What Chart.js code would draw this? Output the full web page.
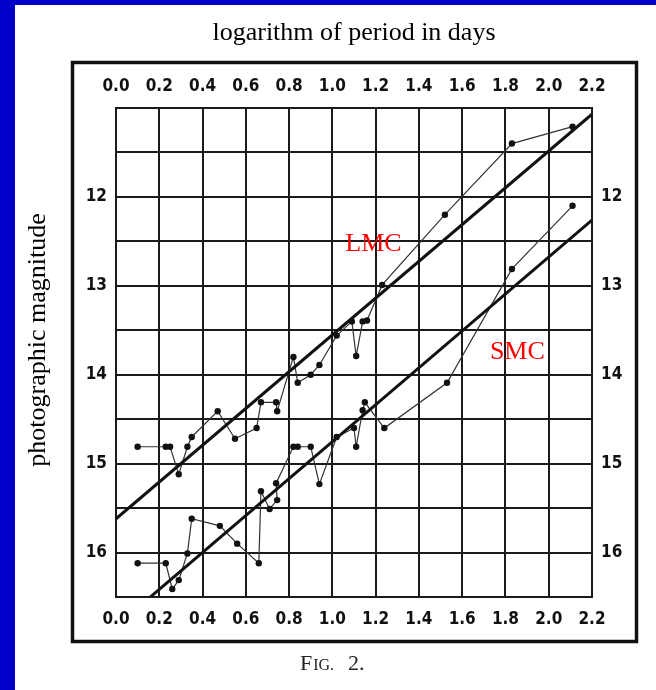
<!DOCTYPE html>
<html><head><meta charset="utf-8">
<script src="https://cdn.jsdelivr.net/npm/chart.js@4.4.1/dist/chart.umd.min.js"></script>
<style>
html,body{margin:0;padding:0;}
body{width:656px;height:690px;background:#0000c8;position:relative;overflow:hidden;}
#paper{position:absolute;left:15px;top:5px;right:0;bottom:0;background:#fff;}
#wrap{position:absolute;left:0;top:0;width:656px;height:690px;}
</style></head><body>
<div id="paper"></div>
<div id="wrap"><canvas id="c" width="656" height="690"></canvas></div>
<script>
// ---- data ----
const xTicks = [0.0, 0.2, 0.4, 0.6, 0.8, 1.0, 1.2, 1.4, 1.6, 1.8, 2.0, 2.2];
const xTickLabels = ['0.0', '0.2', '0.4', '0.6', '0.8', '1.0', '1.2', '1.4', '1.6', '1.8', '2.0', '2.2'];
const yTicks = [11.0, 11.5, 12.0, 12.5, 13.0, 13.5, 14.0, 14.5, 15.0, 15.5, 16.0, 16.5];
const yTickLabels = ['', '', '12', '', '13', '', '14', '', '15', '', '16', ''];

const lmcLogP = [0.10, 0.23, 0.25, 0.29, 0.33, 0.35, 0.47, 0.55, 0.65, 0.67, 0.74, 0.745, 0.82, 0.84, 0.90, 0.94, 1.02, 1.09, 1.11, 1.14, 1.16, 1.23, 1.52, 1.83, 2.11];
const lmcMag  = [14.81, 14.81, 14.81, 15.12, 14.81, 14.70, 14.41, 14.72, 14.60, 14.31, 14.31, 14.41, 13.80, 14.09, 14.00, 13.89, 13.56, 13.40, 13.79, 13.40, 13.39, 12.99, 12.20, 11.40, 11.21];

const smcLogP = [0.10, 0.23, 0.26, 0.29, 0.33, 0.35, 0.48, 0.56, 0.66, 0.67, 0.71, 0.745, 0.74, 0.82, 0.84, 0.90, 0.94, 1.02, 1.10, 1.11, 1.14, 1.15, 1.24, 1.53, 1.83, 2.11];
const smcMag  = [16.12, 16.12, 16.41, 16.31, 16.01, 15.62, 15.70, 15.90, 16.12, 15.31, 15.51, 15.41, 15.22, 14.81, 14.81, 14.81, 15.23, 14.70, 14.60, 14.81, 14.40, 14.31, 14.60, 14.09, 12.81, 12.10];

const lmcFitLogP = [0.0, 2.2];
const lmcFitMag  = [15.62, 11.07];
const smcFitLogP = [0.0, 2.2];
const smcFitMag  = [16.83, 12.26];

const labelLMC = {text: 'LMC', x: 1.06, y: 12.53};
const labelSMC = {text: 'SMC', x: 1.728, y: 13.75};

// ---- chart ----
const toPts = (xs, ys) => xs.map((x, i) => ({x: x, y: ys[i]}));
const SERIF = '"Liberation Serif", "Times New Roman", serif';
const TICKFONT = {family: '"Liberation Sans Narrow", "DejaVu Sans Condensed", sans-serif', size: 17, weight: 'bold'};
const INK = '#1a1a1a';

const decor = {
  id: 'decor',
  afterDraw(chart) {
    const {ctx, chartArea: ca, scales} = chart;
    ctx.save();
    // outer frame
    ctx.strokeStyle = '#111';
    ctx.lineWidth = 3.5;
    const fl = ca.left - 43.5, ft = ca.top - 45.5, fr = ca.right + 44.5, fb = ca.bottom + 44.5;
    ctx.strokeRect(fl, ft, fr - fl, fb - ft);
    // y axis title
    ctx.fillStyle = '#000';
    ctx.font = '26px ' + SERIF;
    ctx.textAlign = 'center';
    ctx.textBaseline = 'middle';
    ctx.save();
    ctx.translate(38, 340);
    ctx.rotate(-Math.PI / 2);
    ctx.fillText('photographic magnitude', 0, 0);
    ctx.restore();
    // series labels
    ctx.fillStyle = '#ff0000';
    ctx.font = '26px ' + SERIF;
    ctx.textAlign = 'left';
    [labelLMC, labelSMC].forEach(l => {
      ctx.fillText(l.text, scales.x.getPixelForValue(l.x), scales.y.getPixelForValue(l.y));
    });
    // caption "FIG. 2."
    ctx.fillStyle = '#222';
    ctx.textBaseline = 'alphabetic';
    ctx.textAlign = 'left';
    let cx = 300; const cy = 670;
    ctx.font = '22px ' + SERIF; ctx.fillText('F', cx, cy); cx += ctx.measureText('F').width + 1;
    ctx.font = '16px ' + SERIF; ctx.fillText('IG.', cx, cy); cx += ctx.measureText('IG.').width + 14;
    ctx.font = '22px ' + SERIF; ctx.fillText('2.', cx, cy);
    ctx.restore();
  }
};

const xScaleBase = (pos) => ({
  type: 'linear', position: pos, min: 0, max: 2.2,
  afterBuildTicks: s => { s.ticks = xTicks.map(v => ({value: v})); },
  ticks: {callback: (v, i) => xTickLabels[i], color: '#111', font: TICKFONT, padding: pos === 'top' ? 11 : 12, maxRotation: 0, autoSkip: false},
  grid: {display: pos === 'bottom', color: INK, lineWidth: 2, drawTicks: false},
  border: {display: true, color: INK, width: 2},
});
const yScaleBase = (pos) => ({
  type: 'linear', position: pos, min: 11, max: 16.5, reverse: true,
  afterBuildTicks: s => { s.ticks = yTicks.map(v => ({value: v})); },
  ticks: {callback: (v, i) => yTickLabels[i], color: '#111', font: TICKFONT, padding: 9, autoSkip: false},
  grid: {display: pos === 'left', color: INK, lineWidth: 2, drawTicks: false},
  border: {display: true, color: INK, width: 2},
});

const sx = xScaleBase('bottom'); sx.afterFit = s => { s.height = 93; };
const sx2 = xScaleBase('top'); sx2.afterFit = s => { s.height = 58.8; };
const sy = yScaleBase('left'); sy.afterFit = s => { s.width = 116; };
const sy2 = yScaleBase('right'); sy2.afterFit = s => { s.width = 64; };

new Chart(document.getElementById('c'), {
  type: 'scatter',
  data: {
    datasets: [
      {label: 'LMC fit', data: toPts(lmcFitLogP, lmcFitMag), showLine: true, borderColor: '#111', borderWidth: 3, pointRadius: 0, xAxisID: 'x', yAxisID: 'y'},
      {label: 'SMC fit', data: toPts(smcFitLogP, smcFitMag), showLine: true, borderColor: '#111', borderWidth: 3, pointRadius: 0, xAxisID: 'x', yAxisID: 'y'},
      {label: 'LMC', data: toPts(lmcLogP, lmcMag), showLine: true, borderColor: '#333', borderWidth: 1.2, pointRadius: 3.2, pointBackgroundColor: '#111', pointBorderColor: '#111', pointBorderWidth: 0, xAxisID: 'x', yAxisID: 'y'},
      {label: 'SMC', data: toPts(smcLogP, smcMag), showLine: true, borderColor: '#333', borderWidth: 1.2, pointRadius: 3.2, pointBackgroundColor: '#111', pointBorderColor: '#111', pointBorderWidth: 0, xAxisID: 'x', yAxisID: 'y'}
    ]
  },
  options: {
    responsive: false, animation: false, maintainAspectRatio: false,
    layout: {padding: 0},
    plugins: {
      legend: {display: false},
      tooltip: {enabled: false},
      title: {display: true, text: 'logarithm of period in days', fullSize: false, color: '#000',
              font: {family: SERIF, size: 26, weight: 'normal'}, padding: {top: 18, bottom: 0}}
    },
    scales: {x: sx, x2: sx2, y: sy, y2: sy2}
  },
  plugins: [decor]
});
</script>
</body></html>
